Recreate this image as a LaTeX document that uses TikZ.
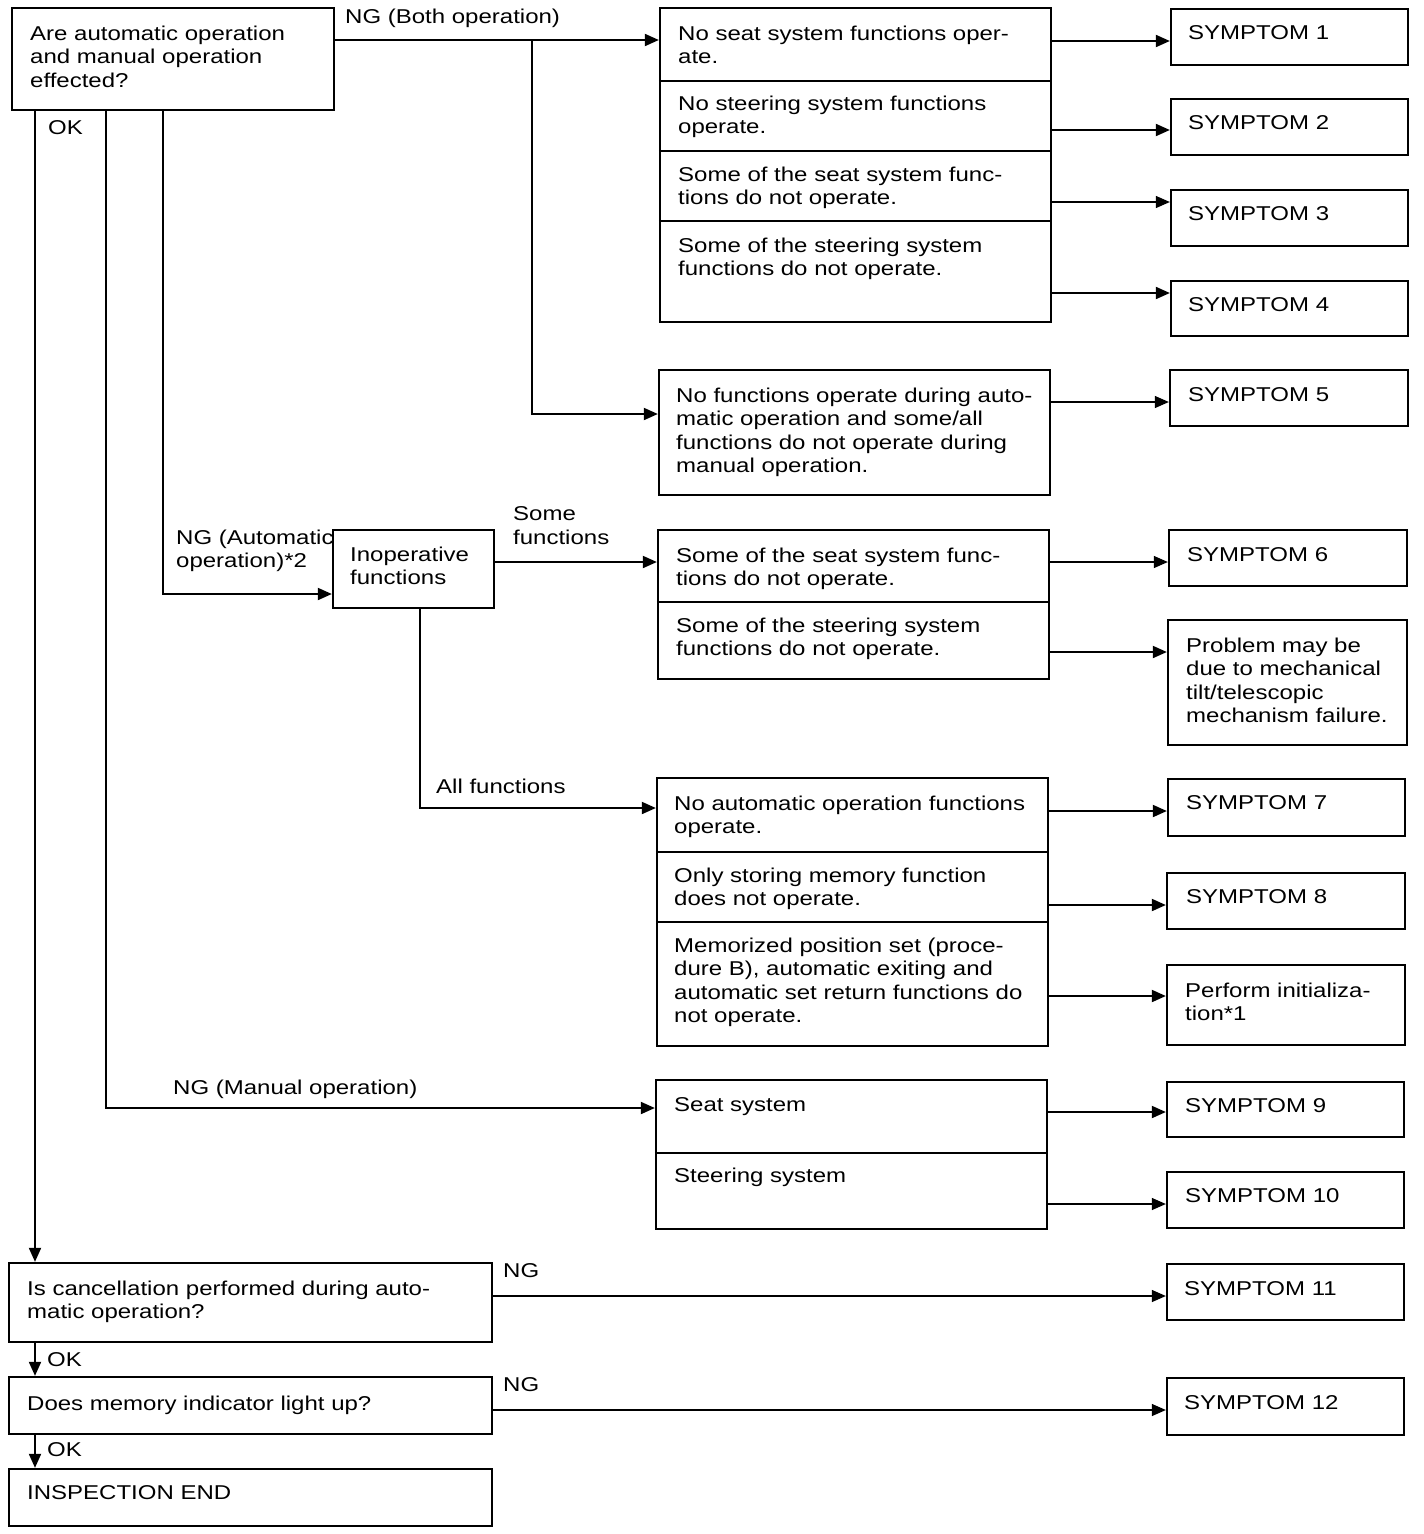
\documentclass[tikz,border=0pt]{standalone}
\usepackage{fontspec}
\setmainfont{Liberation Sans}[FakeStretch=1.2]
\usetikzlibrary{arrows.meta,fit,calc}
\newcommand{\mybox}[5]{\node[box, fit={(#2,#3)(#4,#5)}] (#1) {};}
\begin{document}
\begin{tikzpicture}[x=1pt,y=-1pt,
  box/.style={draw, line width=2.3pt, inner sep=0pt},
  txt/.style={anchor=north west, inner sep=0pt, align=left, font=\fontsize{20}{23.5}\selectfont},
  conn/.style={line width=1.9pt},
  arr/.style={conn, -{Triangle[length=14pt,width=12pt]}},
  thinarr/.style={line width=1.2pt, -{Triangle[length=14pt,width=12pt]}},
  divider/.style={line width=2.3pt},
]
\useasboundingbox (0,0) rectangle (1424,1534);

% ---------- boxes ----------
\mybox{a}{12}{8}{334}{110}
\mybox{g1}{660}{8}{1051}{322}
\mybox{s1}{1171}{9}{1408}{65}
\mybox{s2}{1171}{99}{1408}{155}
\mybox{s3}{1171}{190}{1408}{246}
\mybox{s4}{1171}{281}{1408}{336}
\mybox{g5}{659}{370}{1050}{495}
\mybox{s5}{1170}{370}{1408}{426}
\mybox{inop}{333}{530}{494}{608}
\mybox{g2}{658}{530}{1049}{679}
\mybox{s6}{1169}{530}{1407}{586}
\mybox{pm}{1168}{620}{1407}{745}
\mybox{g3}{657}{778}{1048}{1046}
\mybox{s7}{1168}{779}{1405}{836}
\mybox{s8}{1167}{873}{1405}{929}
\mybox{pi}{1167}{965}{1405}{1045}
\mybox{g4}{656}{1080}{1047}{1229}
\mybox{s9}{1167}{1082}{1404}{1137}
\mybox{s10}{1167}{1172}{1404}{1228}
\mybox{q2}{9}{1263}{492}{1342}
\mybox{s11}{1167}{1264}{1404}{1320}
\mybox{q3}{9}{1377}{492}{1434}
\mybox{s12}{1167}{1378}{1404}{1435}
\mybox{end}{9}{1469}{492}{1526}

% ---------- dividers ----------
\draw[divider] (g1.west |- 0,81) -- (g1.east |- 0,81);
\draw[divider] (g1.west |- 0,151) -- (g1.east |- 0,151);
\draw[divider] (g1.west |- 0,221) -- (g1.east |- 0,221);
\draw[divider] (g2.west |- 0,602) -- (g2.east |- 0,602);
\draw[divider] (g3.west |- 0,852) -- (g3.east |- 0,852);
\draw[divider] (g3.west |- 0,922) -- (g3.east |- 0,922);
\draw[divider] (g4.west |- 0,1153) -- (g4.east |- 0,1153);

% ---------- texts ----------
\node[txt] (ta) at (30,25.5) {Are automatic operation\\and manual operation\\effected?};
\node[txt] (tg1a) at (678,25.5) {No seat system functions oper-\\ate.};
\node[txt] (tg1b) at (678,95.5) {No steering system functions\\operate.};
\node[txt] (tg1c) at (678,166.5) {Some of the seat system func-\\tions do not operate.};
\node[txt] (tg1d) at (678,237.5) {Some of the steering system\\functions do not operate.};
\node[txt] (ts1) at (1188,25.5) {SYMPTOM 1};
\node[txt] (ts2) at (1188,115.5) {SYMPTOM 2};
\node[txt] (ts3) at (1188,206.5) {SYMPTOM 3};
\node[txt] (ts4) at (1188,297.5) {SYMPTOM 4};
\node[txt] (tg5) at (676,387.5) {No functions operate during auto-\\matic operation and some/all\\functions do not operate during\\manual operation.};
\node[txt] (ts5) at (1188,387.5) {SYMPTOM 5};
\node[txt] (tinop) at (350,546.5) {Inoperative\\functions};
\node[txt] (tg2a) at (676,547.5) {Some of the seat system func-\\tions do not operate.};
\node[txt] (tg2b) at (676,617.5) {Some of the steering system\\functions do not operate.};
\node[txt] (ts6) at (1187,547.5) {SYMPTOM 6};
\node[txt] (tpm) at (1186,637.5) {Problem may be\\due to mechanical\\tilt/telescopic\\mechanism failure.};
\node[txt] (tg3a) at (674,795.5) {No automatic operation functions\\operate.};
\node[txt] (tg3b) at (674,867.5) {Only storing memory function\\does not operate.};
\node[txt] (tg3c) at (674,937.5) {Memorized position set (proce-\\dure B), automatic exiting and\\automatic set return functions do\\not operate.};
\node[txt] (ts7) at (1186,795.5) {SYMPTOM 7};
\node[txt] (ts8) at (1186,889.5) {SYMPTOM 8};
\node[txt] (tpi) at (1185,982.5) {Perform initializa-\\tion*1};
\node[txt] (tg4a) at (674,1097.5) {Seat system};
\node[txt] (tg4b) at (674,1167.5) {Steering system};
\node[txt] (ts9) at (1185,1098.5) {SYMPTOM 9};
\node[txt] (ts10) at (1185,1188.5) {SYMPTOM 10};
\node[txt] (tq2) at (27,1280.5) {Is cancellation performed during auto-\\matic operation?};
\node[txt] (ts11) at (1184,1281.5) {SYMPTOM 11};
\node[txt] (tq3) at (27,1395.5) {Does memory indicator light up?};
\node[txt] (ts12) at (1184,1395.5) {SYMPTOM 12};
\node[txt] (tend) at (27,1485.5) {INSPECTION END};

% ---------- connector labels ----------
\node[txt] (lok1) at (48,120.5) {OK};
\node[txt] (lngb) at (345,8.5) {NG (Both operation)};
\node[txt] (lnga) at (176,529.5) {NG (Automatic\\operation)*2};
\node[txt] (lsome) at (513,506.5) {Some\\functions};
\node[txt] (lall) at (436,778.5) {All functions};
\node[txt] (lngm) at (173,1079.5) {NG (Manual operation)};
\node[txt] (lng2) at (503,1263.5) {NG};
\node[txt] (lok2) at (47,1352.5) {OK};
\node[txt] (lng3) at (503,1377.5) {NG};
\node[txt] (lok3) at (47,1442.5) {OK};

% ---------- connectors ----------
\coordinate (j1) at (532,40);
\draw[arr] (a.east |- j1) -- (g1.west |- j1);
\draw[arr] (j1) -- (532,414) -- (g5.west |- 0,414);

\draw[arr] (a.south -| 35,0) -- (q2.north -| 35,0);
\draw[arr] (a.south -| 106,0) -- (106,1108) -- (g4.west |- 0,1108);
\draw[arr] (a.south -| 163,0) -- (163,594) -- (inop.west |- 0,594);

\draw[arr] (inop.east |- 0,562) -- (g2.west |- 0,562);
\draw[arr] (inop.south -| 420,0) -- (420,808) -- (g3.west |- 0,808);

\draw[arr] (g1.east |- 0,41) -- (s1.west |- 0,41);
\draw[arr] (g1.east |- 0,130) -- (s2.west |- 0,130);
\draw[thinarr] (g1.east |- 0,202) -- (s3.west |- 0,202);
\draw[arr] (g1.east |- 0,293) -- (s4.west |- 0,293);
\draw[thinarr] (g5.east |- 0,402) -- (s5.west |- 0,402);

\draw[thinarr] (g2.east |- 0,562) -- (s6.west |- 0,562);
\draw[arr] (g2.east |- 0,652) -- (pm.west |- 0,652);

\draw[arr] (g3.east |- 0,811) -- (s7.west |- 0,811);
\draw[arr] (g3.east |- 0,905) -- (s8.west |- 0,905);
\draw[arr] (g3.east |- 0,996) -- (pi.west |- 0,996);

\draw[arr] (g4.east |- 0,1112) -- (s9.west |- 0,1112);
\draw[thinarr] (g4.east |- 0,1204) -- (s10.west |- 0,1204);

\draw[thinarr] (q2.east |- 0,1296) -- (s11.west |- 0,1296);
\draw[arr] (q2.south -| 35,0) -- (q3.north -| 35,0);
\draw[thinarr] (q3.east |- 0,1410) -- (s12.west |- 0,1410);
\draw[arr] (q3.south -| 35,0) -- (end.north -| 35,0);
\end{tikzpicture}
\end{document}
